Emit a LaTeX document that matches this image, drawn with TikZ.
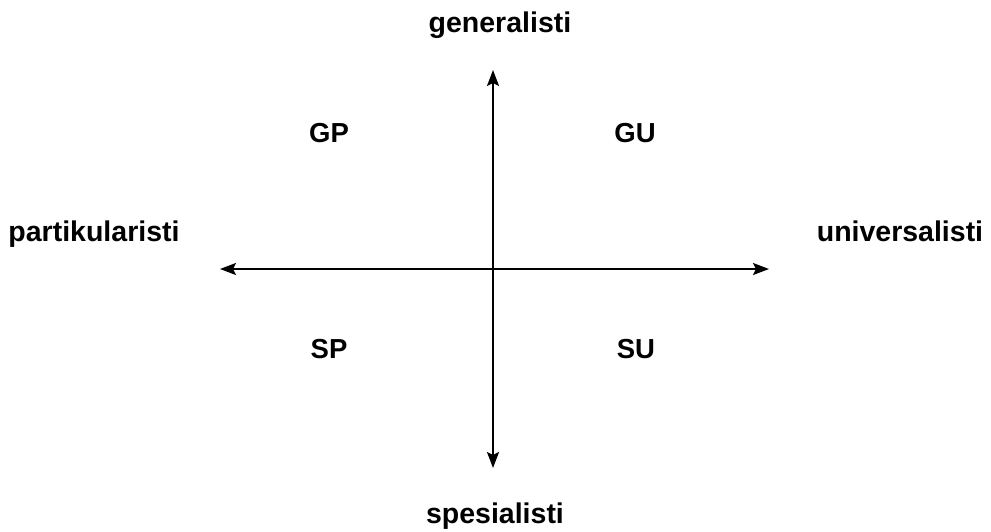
\documentclass[tikz,border=0pt]{standalone}
\usepackage{fontspec}
\setmainfont{Liberation Sans}
\usepackage{tikz}
\usetikzlibrary{arrows.meta, positioning}
\tikzset{
  pole/.style={anchor=base, inner sep=0pt, font=\bfseries\fontsize{28.5}{32}\selectfont},
  quad/.style={anchor=base, inner sep=0pt, font=\bfseries\fontsize{27.5}{32}\selectfont},
  axis/.style={{Stealth[length=16pt, width=12pt, inset=3pt]}-{Stealth[length=16pt, width=12pt, inset=3pt]}, line width=2pt},
}
\begin{document}
\begin{tikzpicture}[x=1pt, y=-1pt]
  \useasboundingbox (0,0) rectangle (991,531);

  % axis ends
  \coordinate (o) at (493,269);
  \coordinate (top) at (493,70);
  \coordinate (bottom) at (493,468);
  \coordinate (left) at (220,269);
  \coordinate (right) at (769,269);

  \draw[axis] (bottom) -- (top);
  \draw[axis] (left) -- (right);

  % poles
  \node[pole] (gen) at (500,32) {generalisti};
  \node[pole] (spe) at (495,523) {spesialisti};
  \node[pole] (par) at (94,241) {partikularisti};
  \node[pole] (uni) at (900,241) {universalisti};

  % quadrants
  \node[quad] (gp) at (329,142) {GP};
  \node[quad] (gu) at (635,142) {GU};
  \node[quad] (sp) at (329,358) {SP};
  \node[quad] (su) at (636,358) {SU};
\end{tikzpicture}
\end{document}
